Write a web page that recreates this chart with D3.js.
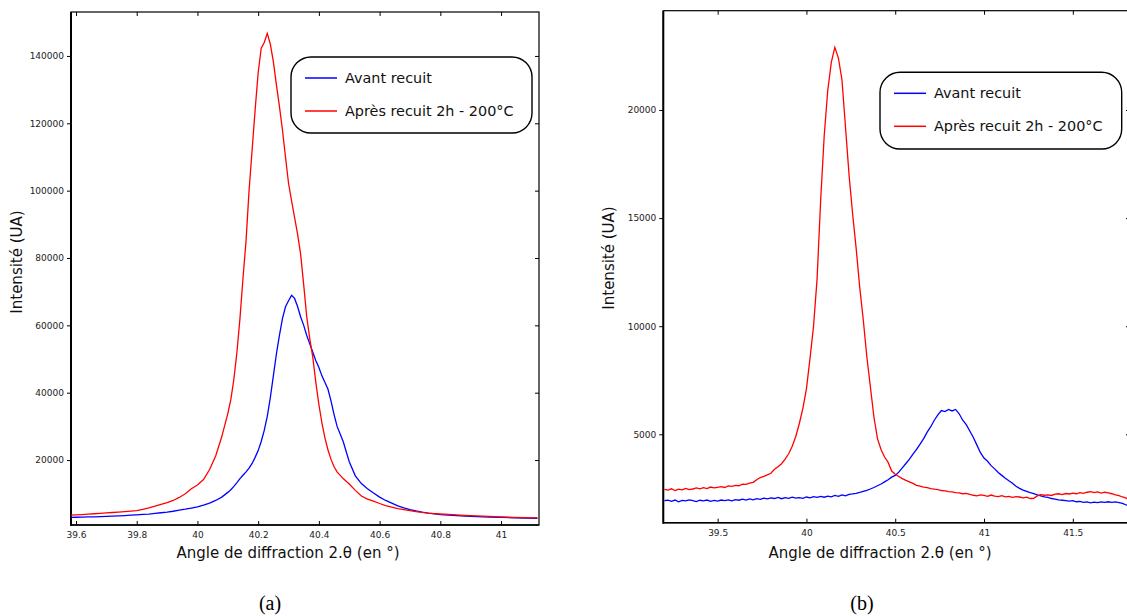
<!DOCTYPE html>
<html><head><meta charset="utf-8">
<script src="https://cdn.jsdelivr.net/npm/d3@7"></script>
<style>body{margin:0;background:#fff}svg{display:block}</style>
</head><body>
<svg id="c" width="1127" height="616"></svg>
<script>
// ---------- DATA ----------
const seriesNames = ["Avant recuit", "Après recuit 2h - 200°C"];
const xTitle = "Angle de diffraction 2.θ (en °)";
const yTitle = "Intensité (UA)";
const panelLabels = ["(a)", "(b)"];

// Panel (a)
const angleA = [39.58,39.60,39.62,39.64,39.66,39.68,39.70,39.72,39.74,39.76,39.78,39.80,39.82,39.84,39.86,39.88,39.90,39.92,39.94,39.96,39.98,40.00,40.02,40.04,40.06,40.08,40.10,
40.11,40.12,40.13,40.14,40.15,40.16,40.17,40.18,40.19,40.20,40.21,40.22,40.23,40.24,40.25,40.26,40.27,40.28,40.29,40.30,40.31,40.32,40.33,40.34,40.35,40.36,40.37,40.38,40.39,40.40,40.41,40.42,40.43,40.44,40.45,40.46,
40.48,40.50,40.52,40.54,40.56,40.58,40.60,40.62,40.64,40.66,40.68,40.70,40.72,40.74,40.76,40.78,40.80,
40.84,40.88,40.92,40.96,41.00,41.04,41.08,41.12];
const avantA = [3000,3020,3050,3100,3150,3220,3280,3350,3430,3520,3620,3730,3850,3970,4150,4350,4550,4800,5100,5400,5750,6100,6600,7200,8000,9000,10400,
11200,12200,13300,14500,15500,16500,17600,19000,20800,22800,25500,28800,33000,38500,45000,51500,57000,62000,65500,67300,68900,68000,65500,62500,60000,57000,54500,52000,49500,47500,45000,43000,41000,37500,33500,30000,
25500,19500,15300,13000,11500,10200,9000,8000,7200,6400,5800,5300,4900,4550,4250,4000,3800,
3550,3350,3200,3070,2970,2870,2780,2720];
const apresA = [3650,3720,3820,3920,4050,4190,4300,4420,4550,4700,4830,4960,5350,5800,6300,6850,7350,8000,8900,10000,11500,12600,14200,17200,21200,26900,33800,
38000,44000,52000,62000,74000,85000,100000,112000,124000,135000,142300,144000,146700,143500,138300,131500,125000,118000,110000,102200,97000,92000,87000,81000,72000,62500,56000,50500,43000,36500,31000,26500,23000,20200,18000,16500,
14500,12900,11000,9300,8400,7800,7100,6500,6000,5600,5300,5000,4700,4450,4250,4100,3980,
3800,3600,3420,3250,3100,2980,2880,2800];
const xTicksA = [39.6,39.8,40,40.2,40.4,40.6,40.8,41];
const yTicksA = [20000,40000,60000,80000,100000,120000,140000];

// Panel (b)
const angleB = [39.20,39.22,39.24,39.26,39.28,39.30,39.32,39.34,39.36,39.38,39.40,39.42,39.44,39.46,39.48,39.50,39.52,39.54,39.56,39.58,
39.60,39.62,39.64,39.66,39.68,39.70,39.72,39.74,39.76,39.78,39.80,39.82,39.84,39.86,39.88,39.90,39.92,39.94,39.96,39.98,
40.00,40.02,40.04,40.06,40.08,40.10,40.12,40.14,40.16,40.18,40.20,40.22,40.24,40.26,40.28,40.30,40.32,40.34,40.36,40.38,
40.40,40.42,40.44,40.46,40.48,40.50,40.52,40.54,40.56,40.58,40.60,40.62,40.64,40.66,40.68,40.70,40.72,40.74,40.76,40.78,
40.80,40.82,40.84,40.86,40.88,40.90,40.92,40.94,40.96,40.98,41.00,41.02,41.04,41.06,41.08,41.10,41.12,41.14,41.16,41.18,
41.20,41.22,41.24,41.26,41.28,41.30,41.32,41.34,41.36,41.38,41.40,41.42,41.44,41.46,41.48,41.50,41.52,41.54,41.56,41.58,
41.60,41.62,41.64,41.66,41.68,41.70,41.72,41.74,41.76,41.78,41.80,41.82];
const avantB = [1930,1950,1900,1960,1880,1940,1920,1970,1930,1890,1950,1920,1960,1900,1940,1910,1960,1930,1970,1920,
1980,1950,2000,1960,2010,1970,2020,1990,2050,2010,2060,2030,2080,2020,2070,2040,2090,2050,2070,2040,
2100,2060,2120,2080,2130,2090,2140,2110,2170,2130,2200,2150,2220,2240,2270,2310,2360,2410,2470,2540,
2620,2700,2800,2900,3020,3100,3250,3450,3650,3850,4080,4300,4550,4800,5100,5350,5650,5900,6100,6050,
6150,6080,6150,5950,5650,5450,5150,4850,4500,4150,3900,3750,3550,3400,3230,3100,2970,2850,2740,2600,
2500,2420,2360,2300,2260,2200,2150,2110,2080,2030,2000,1970,1950,1930,1910,1930,1880,1900,1850,1870,
1830,1860,1840,1870,1850,1880,1850,1870,1840,1800,1730,1700];
const apresB = [2450,2420,2480,2400,2460,2430,2500,2440,2470,2520,2480,2530,2490,2560,2520,2550,2580,2540,2610,2590,
2640,2620,2690,2680,2740,2780,2900,3000,3050,3120,3200,3380,3500,3640,3850,4100,4450,4900,5500,6200,
7100,8500,10000,12200,15800,18800,20900,22200,22900,22400,21400,19200,17000,15200,13600,11800,10300,8600,7200,5800,
4800,4300,3950,3700,3300,3150,3050,2950,2870,2800,2730,2640,2600,2560,2530,2490,2460,2440,2400,2380,
2350,2340,2300,2290,2250,2270,2220,2180,2150,2200,2170,2130,2190,2140,2120,2160,2110,2130,2080,2120,
2100,2060,2090,2030,2040,2150,2210,2180,2200,2170,2230,2250,2210,2260,2240,2280,2250,2300,2270,2320,
2350,2300,2340,2280,2320,2290,2250,2200,2160,2100,2050,1950];
const xTicksB = [39.5,40,40.5,41,41.5];
const yTicksB = [5000,10000,15000,20000];

const colors = ["#0000ff", "#ff0000"];

// ---------- DRAW ----------
const svg = d3.select("#c");
const FONT = "DejaVu Sans, Verdana, sans-serif";

function panel(cfg) {
  const x = d3.scaleLinear().domain(cfg.xd).range([cfg.l, cfg.r]);
  const y = d3.scaleLinear().domain(cfg.yd).range([cfg.b, cfg.t]);
  const g = svg.append("g");
  const clipId = "clip" + cfg.id;
  svg.append("clipPath").attr("id", clipId).append("rect")
    .attr("x", cfg.l).attr("y", cfg.t).attr("width", cfg.r - cfg.l).attr("height", cfg.b - cfg.t);

  const fmt = d => String(+d.toFixed(1));
  const ax = d3.axisBottom(x).tickValues(cfg.xt).tickSize(-4).tickPadding(7).tickFormat(fmt);
  const gb = g.append("g").attr("transform", `translate(0,${cfg.b})`).call(ax);
  const gt = g.append("g").attr("transform", `translate(0,${cfg.t})`)
    .call(d3.axisTop(x).tickValues(cfg.xt).tickSize(-4).tickFormat(""));
  const gl = g.append("g").attr("transform", `translate(${cfg.l},0)`)
    .call(d3.axisLeft(y).tickValues(cfg.yt).tickSize(4).tickPadding(3).tickFormat(d3.format("d")));
  const gr = g.append("g").attr("transform", `translate(${cfg.r},0)`)
    .call(d3.axisRight(y).tickValues(cfg.yt).tickSize(-4).tickFormat(""));
  [gb, gt, gl, gr].forEach(a => {
    a.select(".domain").remove();
    a.selectAll(".tick line").attr("stroke", "#000").attr("stroke-width", 1);
    a.selectAll("text").attr("font-family", FONT).attr("font-size", 9).attr("fill", "#222");
  });
  g.append("rect").attr("x", cfg.l).attr("y", cfg.t).attr("width", cfg.r - cfg.l).attr("height", cfg.b - cfg.t)
    .attr("fill", "none").attr("stroke", "#000").attr("stroke-width", 1.2);
  g.append("line").attr("x1", cfg.l).attr("x2", cfg.l).attr("y1", cfg.t).attr("y2", cfg.b + 1)
    .attr("stroke", "#000").attr("stroke-width", 2);
  g.append("line").attr("x1", cfg.l).attr("x2", cfg.r).attr("y1", cfg.b).attr("y2", cfg.b)
    .attr("stroke", "#000").attr("stroke-width", 1.6);

  const line = d3.line().x(d => x(d[0])).y(d => y(d[1]));
  cfg.series.forEach((s, i) => {
    g.append("path").datum(cfg.xs.map((v, k) => [v, s[k]]))
      .attr("d", line).attr("fill", "none").attr("stroke", colors[i])
      .attr("stroke-width", 1.3).attr("clip-path", `url(#${clipId})`);
  });

  const L = cfg.leg;
  g.append("rect").attr("x", L.x).attr("y", L.y).attr("width", L.w).attr("height", L.h)
    .attr("rx", 20).attr("ry", 20).attr("fill", "#fff").attr("stroke", "#000").attr("stroke-width", 1.4);
  seriesNames.forEach((n, i) => {
    const yy = L.y + 21 + i * 33;
    g.append("line").attr("x1", L.x + 14).attr("x2", L.x + 46).attr("y1", yy).attr("y2", yy)
      .attr("stroke", colors[i]).attr("stroke-width", 1.5);
    g.append("text").attr("x", L.x + 54).attr("y", yy + 5).text(n)
      .attr("font-family", FONT).attr("font-size", 14.4).attr("fill", "#111");
  });

  g.append("text").attr("x", cfg.xtx).attr("y", 558).attr("text-anchor", "middle").text(xTitle)
    .attr("font-family", FONT).attr("font-size", 15).attr("fill", "#111");
  g.append("text").attr("transform", `translate(${cfg.ytx},${cfg.yty}) rotate(-90)`)
    .attr("text-anchor", "middle").text(yTitle)
    .attr("font-family", FONT).attr("font-size", 15).attr("fill", "#111");
  g.append("text").attr("x", cfg.plx).attr("y", 610).attr("text-anchor", "middle").text(cfg.pl)
    .attr("font-family", "Liberation Serif, Times New Roman, serif").attr("font-size", 20).attr("fill", "#000");
}

panel({id: "a", l: 71, r: 539, t: 12, b: 525, xd: [39.5835, 41.125], yd: [713, 153050],
  xt: xTicksA, yt: yTicksA, xs: angleA, series: [avantA, apresA],
  leg: {x: 291, y: 57, w: 241, h: 76}, xtx: 288, ytx: 22, yty: 262, plx: 270, pl: panelLabels[0]});
panel({id: "b", l: 663.3, r: 1130, t: 10.7, b: 522.7, xd: [39.194, 41.822], yd: [911, 24593],
  xt: xTicksB, yt: yTicksB, xs: angleB, series: [avantB, apresB],
  leg: {x: 880, y: 72.3, w: 241.7, h: 76.7}, xtx: 880, ytx: 614, yty: 258, plx: 862, pl: panelLabels[1]});
</script>
</body></html>
